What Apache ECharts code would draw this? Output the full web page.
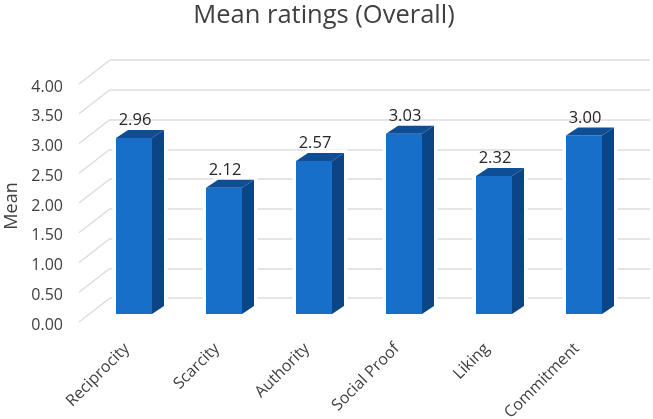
<!DOCTYPE html>
<html><head><meta charset="utf-8">
<style>html,body{margin:0;padding:0;background:#fff}#c{width:653px;height:419px}</style>
<script src="https://cdn.jsdelivr.net/npm/echarts@6/dist/echarts.min.js"></script>
</head><body><div id="c"></div>
<script>
const categories = ["Reciprocity","Scarcity","Authority","Social Proof","Liking","Commitment"];
const means = [2.96,2.12,2.57,3.03,2.32,3.00];
const ticks = [0,0.5,1,1.5,2,2.5,3,3.5,4];
const FONT = '"Open Sans", sans-serif';
const chart = echarts.init(document.getElementById('c'), null, {renderer:'canvas'});
const DX = 12, DY = -8;
chart.setOption({
  animation:false,
  backgroundColor:'#fff',
  title:{text:'Mean ratings (Overall)',left:319,top:-2,textAlign:'center',
    textStyle:{fontFamily:FONT,fontWeight:'normal',fontSize:25.5,color:'#404040'}},
  grid:[
    {left:110,width:540,top:60,height:238,outerBoundsMode:'none'},
    {left:89,width:540,top:76,height:238,outerBoundsMode:'none'},
    {left:79,width:540,top:87,height:238,outerBoundsMode:'none'}
  ],
  xAxis:[
    {gridIndex:0,type:'category',data:categories,show:false},
    {gridIndex:1,type:'category',data:categories,axisLine:{show:false},axisTick:{show:false},
      axisLabel:{interval:0,rotate:45,margin:25,padding:[0,10,0,0],fontFamily:FONT,fontSize:16,color:'#404040'}},
    {gridIndex:2,type:'category',data:categories,show:false}
  ],
  yAxis:[
    {gridIndex:0,type:'value',min:0,max:4,interval:0.5,axisLine:{show:false},axisTick:{show:false},axisLabel:{show:false},
      splitLine:{show:true,lineStyle:{color:'#dcdcdc',width:1.5}}},
    {gridIndex:1,type:'value',min:0,max:4,interval:0.5,show:false,splitLine:{show:false}},
    {gridIndex:2,type:'value',min:0,max:4,interval:0.5,axisLine:{show:false},axisTick:{show:false},splitLine:{show:false},
      name:'Mean',nameLocation:'middle',nameGap:56,nameRotate:90,
      nameTextStyle:{fontFamily:FONT,fontSize:18,color:'#404040'},
      axisLabel:{margin:16,fontFamily:FONT,fontSize:16,color:'#404040',formatter:v=>v.toFixed(2)}}
  ],
  series:[
    {type:'custom',xAxisIndex:0,yAxisIndex:0,z:1,silent:true,
      data:ticks.map(v=>[0,v]),
      renderItem(params,api){
        const y=api.coord([0,api.value(1)])[1];
        return {type:'line',shape:{x1:110,y1:y,x2:79,y2:y+24},style:{stroke:'#dcdcdc',lineWidth:1.5}};
      }},
    {type:'custom',xAxisIndex:1,yAxisIndex:1,z:3,
      data:means.map((v,i)=>[i,v]),
      encode:{x:0,y:1},
      renderItem(params,api){
        const p=api.coord([api.value(0),api.value(1)]);
        const b=api.coord([api.value(0),0]);
        const w=api.size([1,0])[0]*0.4;
        const l=p[0]-w/2,r=p[0]+w/2,t=p[1],bt=b[1];
        return {type:'group',children:[
          {type:'polygon',shape:{points:[[l,bt],[l,t],[l+DX,t+DY],[r+DX,t+DY],[r+DX,bt+DY],[r,bt]]},
            style:{fill:'#fff',stroke:'#fff',lineWidth:7}},
          {type:'rect',shape:{x:l,y:t,width:w,height:bt-t},style:{fill:'#176fca'}},
          {type:'polygon',shape:{points:[[r,t],[r+DX,t+DY],[r+DX,bt+DY],[r,bt]]},style:{fill:'#0b4585'}},
          {type:'polygon',shape:{points:[[l,t],[l+DX,t+DY],[r+DX,t+DY],[r,t]]},style:{fill:'#0f4d94'}},
          {type:'text',style:{text:api.value(1).toFixed(2),x:p[0]+1,y:t-9,align:'center',verticalAlign:'bottom',
            font:'16.5px '+FONT,fill:'#262626'}}
        ]};
      }}
  ]
});
</script></body></html>
